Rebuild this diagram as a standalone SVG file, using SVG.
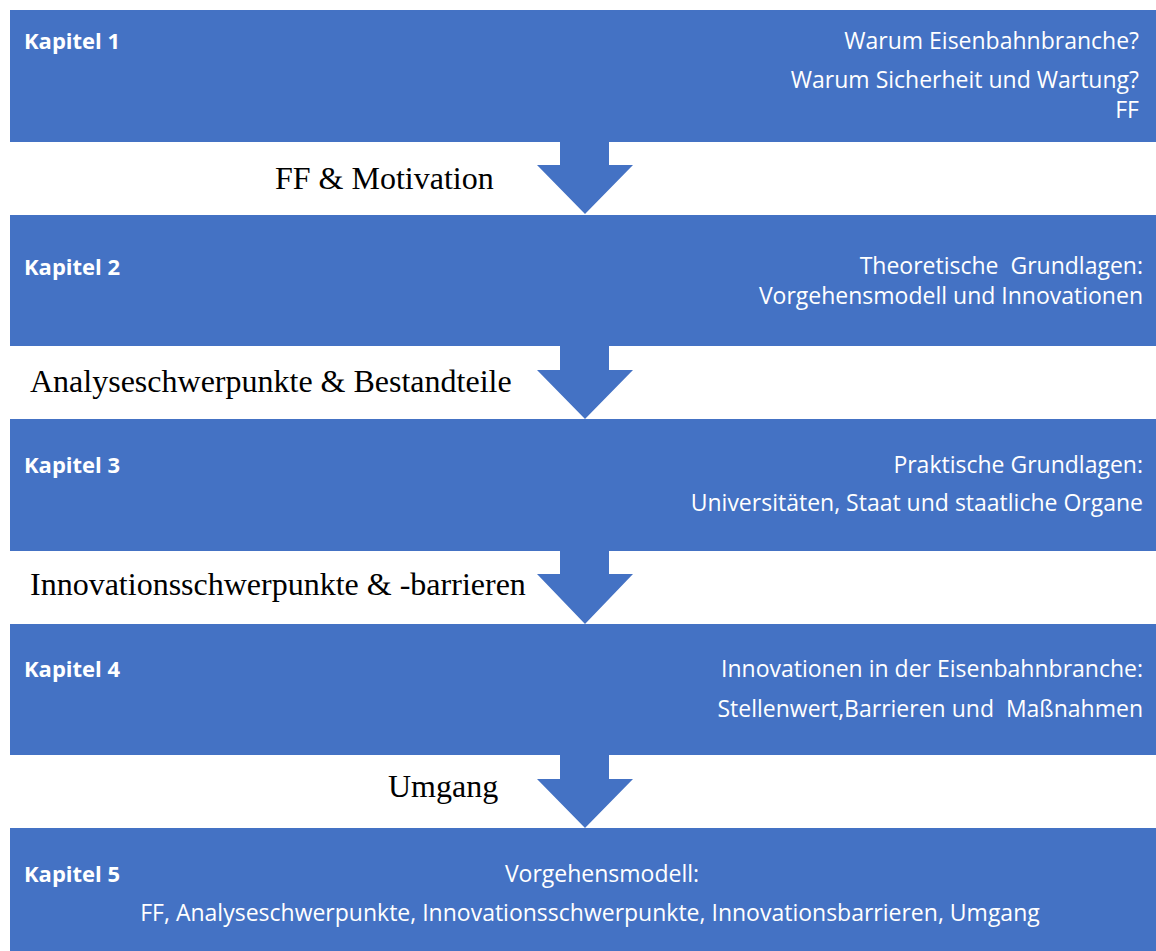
<svg xmlns="http://www.w3.org/2000/svg" width="1156" height="951" viewBox="0 0 1156 951">
  <style>
    .box { fill: #4472C4; }
    .arrow { fill: #4472C4; }
    .head { font-family: "Open Sans", "Liberation Sans", sans-serif; font-weight: bold; font-size: 22px; fill: #ffffff; }
    .body { font-family: "Open Sans", "Liberation Sans", sans-serif; font-size: 23px; fill: #ffffff; white-space: pre; }
    .r { text-anchor: end; }
    .c { text-anchor: middle; }
    .label { font-family: "Liberation Serif", "Times New Roman", serif; font-size: 32px; fill: #000000; }
  </style>
  <rect width="1156" height="951" fill="#ffffff"/>

  <!-- block arrows between the chapter bars -->
  <g id="connectors">
    <polygon class="arrow" points="560,141 609,141 609,165 633,165 585,214 537,165 560,165"/>
    <polygon class="arrow" points="560,345 609,345 609,370 633,370 585,419 537,370 560,370"/>
    <polygon class="arrow" points="560,550 609,550 609,574 633,574 585,624 537,574 560,574"/>
    <polygon class="arrow" points="560,754 609,754 609,779 633,779 585,828 537,779 560,779"/>
  </g>

  <g id="kapitel1">
    <rect class="box" x="10" y="10" width="1146" height="132"/>
    <text class="head" x="24" y="49">Kapitel 1</text>
    <text class="body r" x="1139" y="49">Warum Eisenbahnbranche?</text>
    <text class="body r" x="1139" y="88">Warum Sicherheit und Wartung?</text>
    <text class="body r" x="1139" y="118">FF</text>
  </g>

  <g id="label1">
    <text class="label" x="275" y="189">FF &amp; Motivation</text>
  </g>

  <g id="kapitel2">
    <rect class="box" x="10" y="215" width="1146" height="131"/>
    <text class="head" x="24" y="275">Kapitel 2</text>
    <text class="body r" x="1143" y="274">Theoretische  Grundlagen:</text>
    <text class="body r" x="1143" y="304">Vorgehensmodell und Innovationen</text>
  </g>

  <g id="label2">
    <text class="label" x="30" y="392">Analyseschwerpunkte &amp; Bestandteile</text>
  </g>

  <g id="kapitel3">
    <rect class="box" x="10" y="419" width="1146" height="132"/>
    <text class="head" x="24" y="473">Kapitel 3</text>
    <text class="body r" x="1143" y="473">Praktische Grundlagen:</text>
    <text class="body r" x="1143" y="511">Universitäten, Staat und staatliche Organe</text>
  </g>

  <g id="label3">
    <text class="label" x="30" y="595">Innovationsschwerpunkte &amp; -barrieren</text>
  </g>

  <g id="kapitel4">
    <rect class="box" x="10" y="624" width="1146" height="131"/>
    <text class="head" x="24" y="677">Kapitel 4</text>
    <text class="body r" x="1143" y="677">Innovationen in der Eisenbahnbranche:</text>
    <text class="body r" x="1143" y="717">Stellenwert,Barrieren und  Maßnahmen</text>
  </g>

  <g id="label4">
    <text class="label" x="388" y="797">Umgang</text>
  </g>

  <g id="kapitel5">
    <rect class="box" x="10" y="828" width="1146" height="123"/>
    <text class="head" x="24" y="882">Kapitel 5</text>
    <text class="body c" x="602" y="882">Vorgehensmodell:</text>
    <text class="body c" x="590" y="921">FF, Analyseschwerpunkte, Innovationsschwerpunkte, Innovationsbarrieren, Umgang</text>
  </g>
</svg>
